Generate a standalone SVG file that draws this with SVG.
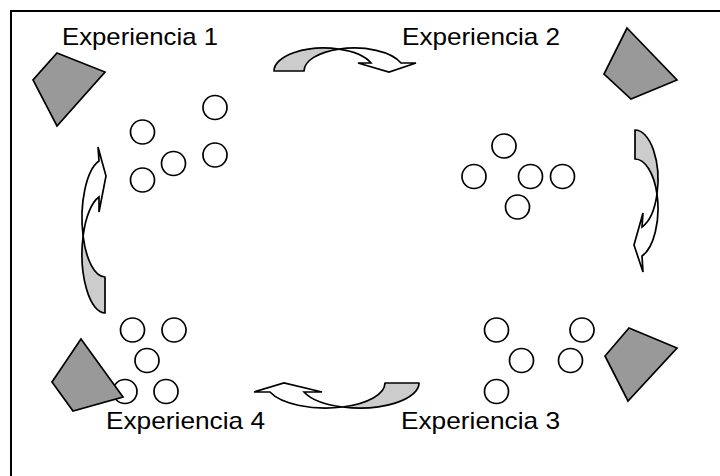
<svg xmlns="http://www.w3.org/2000/svg" width="720" height="476" viewBox="0 0 720 476">
<style>
.lbl{font-family:"Liberation Sans",Arial,sans-serif;font-size:24px;fill:#000}
.quad{fill:#999999;stroke:#000;stroke-width:1.7;stroke-linejoin:miter}
.dot{fill:#fff;stroke:#000;stroke-width:1.7}
.back{fill:#cccccc;stroke:#000;stroke-width:1.7;stroke-linejoin:round}
.front{fill:#fff;stroke:#000;stroke-width:1.7;stroke-linejoin:miter}
</style>
<rect x="0" y="0" width="720" height="476" fill="#fff"/>
<rect x="11" y="11" width="730" height="480" fill="none" stroke="#000" stroke-width="2"/>

<g id="experiencia-1">
  <text class="lbl" x="62" y="45" textLength="156" lengthAdjust="spacingAndGlyphs">Experiencia 1</text>
  <polygon class="quad" points="57,53 105,72 57,126 33,80"/>
  <circle class="dot" cx="215" cy="107.5" r="12"/>
  <circle class="dot" cx="142.5" cy="132" r="12"/>
  <circle class="dot" cx="215" cy="155" r="12"/>
  <circle class="dot" cx="173.5" cy="163.5" r="12"/>
  <circle class="dot" cx="142.5" cy="180" r="12"/>
</g>

<g id="experiencia-2">
  <text class="lbl" x="402" y="45" textLength="158" lengthAdjust="spacingAndGlyphs">Experiencia 2</text>
  <polygon class="quad" points="627,28 677,80 631,99 604,74"/>
  <circle class="dot" cx="504" cy="146" r="12"/>
  <circle class="dot" cx="474" cy="176.5" r="12"/>
  <circle class="dot" cx="530.5" cy="176.5" r="12"/>
  <circle class="dot" cx="562.5" cy="176.5" r="12"/>
  <circle class="dot" cx="517.5" cy="207" r="12"/>
</g>

<g id="experiencia-3">
  <text class="lbl" x="401" y="429" textLength="159" lengthAdjust="spacingAndGlyphs">Experiencia 3</text>
  <polygon class="quad" points="629,328 677,348 628,401 605,356"/>
  <circle class="dot" cx="496.5" cy="330" r="12"/>
  <circle class="dot" cx="582" cy="330" r="12"/>
  <circle class="dot" cx="521.5" cy="360.5" r="12"/>
  <circle class="dot" cx="570.5" cy="360.5" r="12"/>
  <circle class="dot" cx="496.5" cy="391.5" r="12"/>
</g>

<g id="experiencia-4">
  <text class="lbl" x="106" y="429" textLength="159" lengthAdjust="spacingAndGlyphs">Experiencia 4</text>
  <circle class="dot" cx="132.5" cy="330" r="12"/>
  <circle class="dot" cx="174" cy="330" r="12"/>
  <circle class="dot" cx="147" cy="360.5" r="12"/>
  <circle class="dot" cx="125" cy="391.5" r="12"/>
  <circle class="dot" cx="166" cy="391.5" r="12"/>
  <polygon class="quad" points="81,339 123,397 73,411 52,382"/>
</g>

<g id="connectors">
  <g id="arrow-1-2">
    <path class="back" d="M274,71 A50,23 0 0 1 339,49.06 A50,23 0 0 0 304,71 Z"/>
    <path class="front" d="M339,49.06 A50,23 0 0 1 401,63 L416,63 L389,72 L358,63 L371,63 A50,23 0 0 0 339,49.06 Z"/>
  </g>
  <g id="arrow-2-3">
    <path class="back" d="M635,130 L635,159 A23,49.7 0 0 1 657,194.2 A23,49.7 0 0 0 635,130 Z"/>
    <path class="front" d="M657,194.2 A23,49.7 0 0 1 642,227 L643,213 L634,245 L643,272 L642,256 A23,49.7 0 0 0 657,194.2 Z"/>
  </g>
  <g id="arrow-3-4">
    <path class="back" d="M385,383 L419,383 A59.5,25 0 0 1 342.5,407 A59.5,25 0 0 0 385,383 Z"/>
    <path class="front" d="M342.5,407 A59.5,25 0 0 1 270,392 L254,392 L284,383 L322,392 L304,392 A59.5,25 0 0 0 342.5,407 Z"/>
  </g>
  <g id="arrow-4-1">
    <path class="back" d="M105,313 L105,277 A23,59 0 0 1 83.1,236 A23,59 0 0 0 105,313 Z"/>
    <path class="front" d="M83.1,236 A23,59 0 0 1 99,197 L99,212 L106,176 L98,147 L99,161 A23,59 0 0 0 83.1,236 Z"/>
  </g>
</g>
</svg>
